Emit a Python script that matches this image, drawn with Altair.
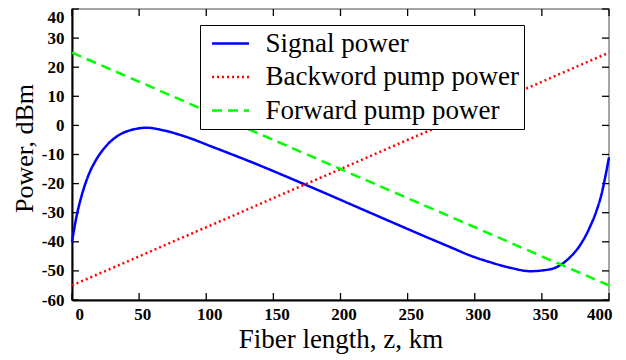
import altair as alt
import pandas as pd

# ---- data ----
series_names = ["Signal power", "Backword pump power", "Forward pump power"]

signal_z = [0, 3.5, 7.2, 12.2, 18.4, 25.8, 35.8, 45.7, 55.6, 68, 85.4, 105.3,
            132, 175, 229, 266.7, 281.6, 296.5, 311.4, 326.3, 341.2, 351, 361,
            371, 378.4, 385.8, 390.8, 394.5, 397.7, 400]
signal_p = [-40, -31, -24.1, -17.2, -11.5, -6.9, -3.1, -1.4, -0.8, -1.7, -4.0,
            -7.5, -12.3, -20.6, -31.4, -38.9, -41.8, -44.7, -47.0, -48.9,
            -50.1, -49.8, -48.7, -45.3, -41.2, -34.9, -29.2, -23.5, -16.6, -11]

backward_z = [0, 400]
backward_p = [-55, 25]

forward_z = [0, 400]
forward_p = [25, -55]

x_ticks = [0, 50, 100, 150, 200, 250, 300, 350, 400]
y_ticks = [-60, -50, -40, -30, -20, -10, 0, 10, 20, 30, 40]

colors = ["#0000FF", "#FF0000", "#00FF00"]
dashes = [[1, 0], [2, 3], [10, 6]]

rows = []
for z, p in zip(signal_z, signal_p):
    rows.append({"series": series_names[0], "z": z, "P": p})
for z, p in zip(backward_z, backward_p):
    rows.append({"series": series_names[1], "z": z, "P": p})
for z, p in zip(forward_z, forward_p):
    rows.append({"series": series_names[2], "z": z, "P": p})
df = pd.DataFrame(rows)

W, H = 537, 291
SERIF = "Liberation Serif"

x_enc = alt.X("z:Q", scale=alt.Scale(domain=[0, 400], nice=False),
              axis=alt.Axis(values=x_ticks, title="Fiber length, z, km",
                            labelExpr="'' + datum.value", labelOffset=3))
y_enc = alt.Y("P:Q", scale=alt.Scale(domain=[-60, 40], nice=False),
              axis=alt.Axis(values=y_ticks, title="Power, dBm", titleY=139,
                            labelExpr="'' + datum.value",
                            labelBaseline={"condition": {"test": "datum.value == 40", "value": "top"},
                                           "value": "middle"}))

sym = "M-0.7,0H3.3"
lines = alt.Chart(df).mark_line(strokeWidth=2.5, interpolate="monotone").encode(
    x=x_enc,
    y=y_enc,
    color=alt.Color("series:N", scale=alt.Scale(domain=series_names, range=colors),
                    legend=alt.Legend(title=None, symbolType=sym)),
    strokeDash=alt.StrokeDash("series:N", scale=alt.Scale(domain=series_names, range=dashes),
                              legend=alt.Legend(title=None, symbolType=sym)),
    order=alt.Order("z:Q"),
)

xt = pd.DataFrame({"z": x_ticks})
yt = pd.DataFrame({"P": y_ticks})

tick_bottom = alt.Chart(xt).mark_rule(color="black", strokeWidth=1.3).encode(
    x=x_enc, y=alt.value(H), y2=alt.value(H - 7))
tick_top = alt.Chart(xt).mark_rule(color="black", strokeWidth=1.3).encode(
    x=x_enc, y=alt.value(0), y2=alt.value(7))
tick_left = alt.Chart(yt).mark_rule(color="black", strokeWidth=1.3).encode(
    y=y_enc, x=alt.value(0), x2=alt.value(7))
tick_right = alt.Chart(yt).mark_rule(color="black", strokeWidth=1.3).encode(
    y=y_enc, x=alt.value(W - 7), x2=alt.value(W))

chart = alt.layer(tick_bottom, tick_top, tick_left, tick_right, lines).properties(
    width=W, height=H,
    autosize=alt.AutoSizeParams(type="none"),
    padding={"left": 64, "top": 1, "right": 9, "bottom": 58},
).configure_view(
    stroke="#888888", strokeWidth=1.5
).configure_axis(
    grid=False, ticks=False, tickSize=0,
    domainColor="black", domainWidth=2,
    labelFont=SERIF, labelFontSize=17, labelFontWeight="bold", labelColor="black",
    titleFont=SERIF, titleFontSize=27, titleFontWeight="normal", titleColor="black",
).configure_axisX(
    labelPadding=6, titlePadding=4,
).configure_axisY(
    labelPadding=8, titlePadding=4, titleFontSize=26,
).configure_legend(
    orient="none", legendX=128, legendY=16,
    strokeColor="black", fillColor="white", padding=5,
    labelFont=SERIF, labelFontSize=27, labelColor="black", labelLimit=0,
    symbolSize=342, symbolStrokeWidth=2.5, labelOffset=33.5, rowPadding=5.5,
)

chart.save("out.html", embed_options={"renderer": "svg", "actions": False})
